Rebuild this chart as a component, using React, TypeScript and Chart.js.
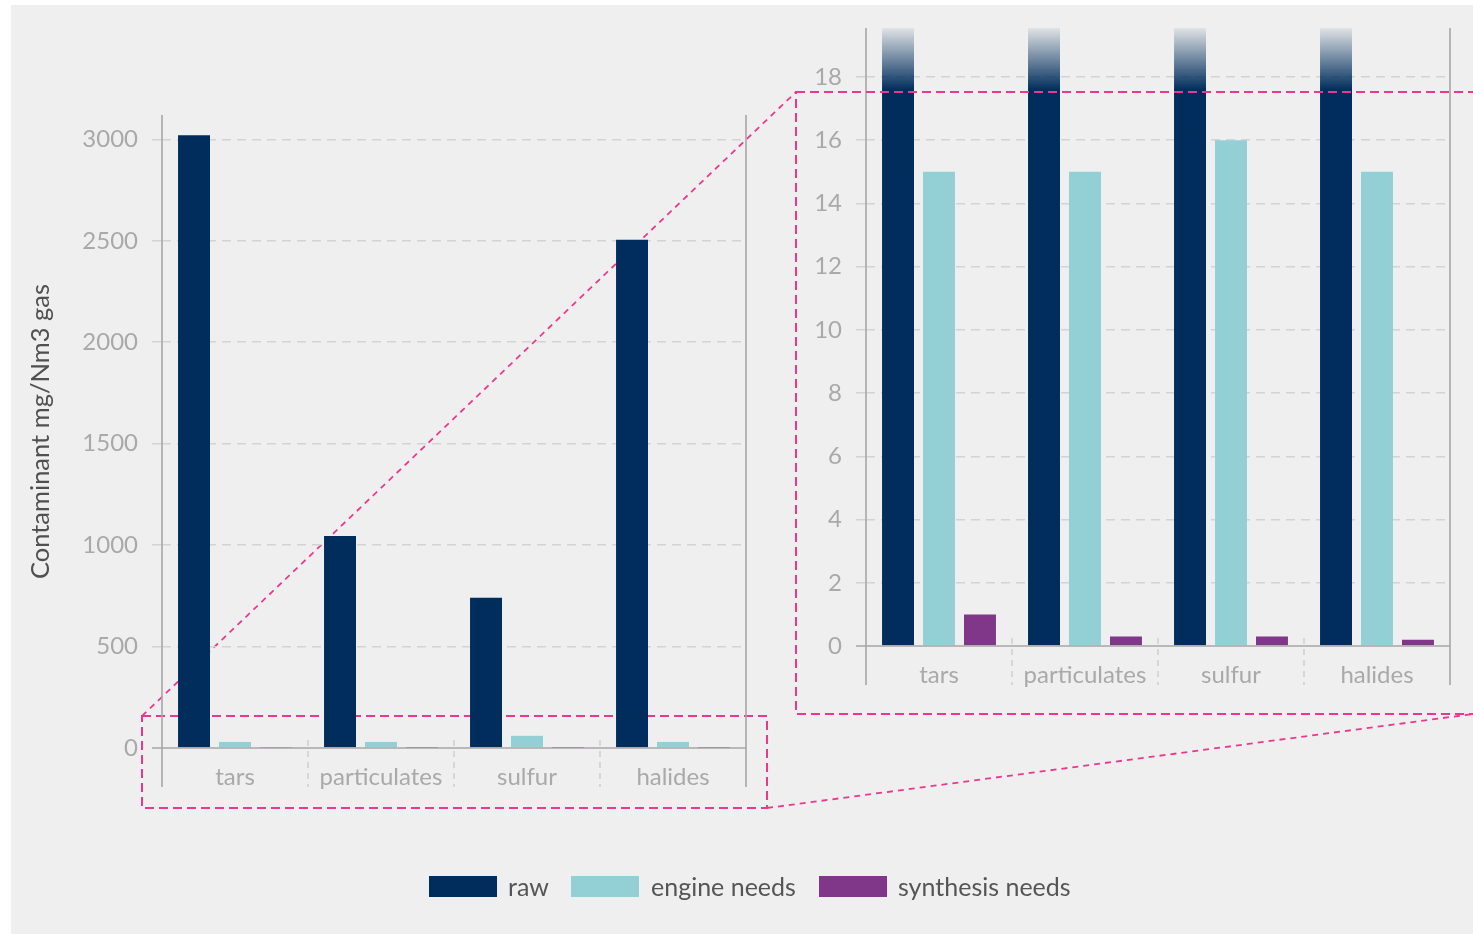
import React, { useEffect, useRef } from 'react';
import { Chart, registerables } from 'chart.js';

Chart.register(...registerables);

// ---------- data ----------
const categories = ['tars', 'particulates', 'sulfur', 'halides'];
const seriesNames = ['raw', 'engine needs', 'synthesis needs'];
const rawValues = [3020, 1045, 740, 2505];
const engineNeedsOverview = [30, 30, 60, 30];
const engineNeeds = [15, 15, 16, 15];
const synthesisNeeds = [1, 0.3, 0.3, 0.2];
const overviewTicks = [0, 500, 1000, 1500, 2000, 2500, 3000];
const zoomTicks = [0, 2, 4, 6, 8, 10, 12, 14, 16, 18];
const yTitle = 'Contaminant mg/Nm3 gas';

// ---------- style ----------
const NAVY = '#002d5c';
const TEAL = '#93d0d6';
const PURPLE = '#80378a';
const PINK = '#ec3790';
const TICK_COLOR = '#a9a9a9';
const GRID_COLOR = '#d3d3d3';
const FRAME_COLOR = '#a6a6a6';
const FONT = 'Lato, "Open Sans", sans-serif';

const W = 1473;
const H = 934;

// canvas placements (page coordinates)
const LEFT_BOX = { x: 20, y: 85, w: 740, h: 715, axisW: 142, axisH: 52, padTop: 30, padRight: 14 };
const RIGHT_BOX = { x: 790, y: -2, w: 683, h: 702, axisW: 76, axisH: 54, padTop: 30, padRight: 23 };

const framePlugin = {
  id: 'frame',
  afterDraw(chart: any) {
    const { ctx, chartArea: a, scales } = chart;
    const xs = scales.x;
    const y0 = scales.y.getPixelForValue(0);
    ctx.save();
    ctx.strokeStyle = FRAME_COLOR;
    ctx.lineWidth = 1.6;
    ctx.setLineDash([]);
    ctx.beginPath();
    ctx.moveTo(a.left - 10, y0);
    ctx.lineTo(a.right, y0);
    ctx.stroke();
    for (const px of [a.left, a.right]) {
      ctx.beginPath();
      ctx.moveTo(px, a.top);
      ctx.lineTo(px, a.bottom + 39);
      ctx.stroke();
    }
    ctx.strokeStyle = '#c6c6c6';
    ctx.lineWidth = 1.2;
    ctx.setLineDash([6, 5]);
    for (let i = 1; i < categories.length; i++) {
      const px = (xs.getPixelForValue(i - 1) + xs.getPixelForValue(i)) / 2;
      ctx.beginPath();
      ctx.moveTo(px, y0 - 8);
      ctx.lineTo(px, a.bottom + 39);
      ctx.stroke();
    }
    ctx.restore();
  },
};

function makeOptions(box: any, max: number, ticks: number[], withTitle: boolean) {
  const gridColor = (c: any) => (c.tick && c.tick.value === 0 ? 'rgba(0,0,0,0)' : GRID_COLOR);
  return {
    responsive: false,
    animation: false as const,
    maintainAspectRatio: false,
    layout: { padding: { top: box.padTop, right: box.padRight, left: 0, bottom: 0 } },
    plugins: {
      legend: { display: false },
      tooltip: { enabled: false },
    },
    datasets: { bar: { categoryPercentage: 0.842, barPercentage: 0.78 } },
    scales: {
      x: {
        grid: { display: false, drawTicks: false },
        border: { display: false },
        ticks: {
          color: TICK_COLOR,
          padding: 15,
          font: { family: FONT, size: 24 },
          maxRotation: 0,
          autoSkip: false,
        },
        afterFit: (s: any) => {
          s.height = box.axisH;
        },
      },
      y: {
        min: 0,
        max,
        afterBuildTicks: (axis: any) => {
          axis.ticks = ticks.map((v) => ({ value: v }));
        },
        afterFit: (s: any) => {
          s.width = box.axisW;
        },
        grid: {
          color: gridColor,
          tickColor: gridColor,
          lineWidth: 1.5,
          tickWidth: 1.5,
          tickLength: 10,
          borderDash: [9, 6],
          tickBorderDash: [9, 6],
        },
        border: { display: false, dash: [9, 6] },
        ticks: {
          color: TICK_COLOR,
          padding: 14,
          font: { family: FONT, size: 24 },
          callback: (v: any) => String(v),
        },
        title: {
          display: withTitle,
          text: yTitle,
          color: '#505050',
          font: { family: FONT, size: 25.5 },
          padding: { top: 5, bottom: 0 },
        },
      },
    },
  };
}

export default function App() {
  const leftRef = useRef<HTMLCanvasElement>(null);
  const rightRef = useRef<HTMLCanvasElement>(null);
  const backRef = useRef<HTMLCanvasElement>(null);
  const frontRef = useRef<HTMLCanvasElement>(null);

  useEffect(() => {
    const left = new Chart(leftRef.current!, {
      type: 'bar',
      data: {
        labels: categories,
        datasets: [
          { label: seriesNames[0], data: rawValues, backgroundColor: NAVY, clip: 0 },
          { label: seriesNames[1], data: engineNeedsOverview, backgroundColor: TEAL, clip: 0 },
          { label: seriesNames[2], data: synthesisNeeds, backgroundColor: PURPLE, clip: 0 },
        ],
      },
      options: makeOptions(LEFT_BOX, 3120, overviewTicks, true) as any,
      plugins: [framePlugin],
    });

    const rawGradient = (c: any) => {
      const chart = c.chart;
      const a = chart.chartArea;
      if (!a) return NAVY;
      const g = chart.ctx.createLinearGradient(0, a.top - 4, 0, a.top + 62);
      g.addColorStop(0, 'rgba(0,45,92,0.0)');
      g.addColorStop(0.35, 'rgba(0,45,92,0.35)');
      g.addColorStop(1, 'rgba(0,45,92,1)');
      return g;
    };

    const right = new Chart(rightRef.current!, {
      type: 'bar',
      data: {
        labels: categories,
        datasets: [
          { label: seriesNames[0], data: rawValues, backgroundColor: rawGradient, clip: 0 },
          { label: seriesNames[1], data: engineNeeds, backgroundColor: TEAL, clip: 0 },
          { label: seriesNames[2], data: synthesisNeeds, backgroundColor: PURPLE, clip: 0 },
        ],
      },
      options: makeOptions(RIGHT_BOX, 19.55, zoomTicks, false) as any,
      plugins: [framePlugin],
    });

    // zoom indicator lines, placed relative to the chart areas
    const la = left.chartArea;
    const ra = right.chartArea;
    const L = {
      left: LEFT_BOX.x + la.left,
      right: LEFT_BOX.x + la.right,
      bottom: LEFT_BOX.y + la.bottom,
    };
    const R = {
      left: RIGHT_BOX.x + ra.left,
      top: RIGHT_BOX.y + ra.top,
      bottom: RIGHT_BOX.y + ra.bottom,
    };
    const lr = { x1: L.left - 20, x2: L.right + 21, y1: L.bottom - 32, y2: L.bottom + 60 };
    const rr = { x1: R.left - 70, x2: W + 4, y1: R.top + 64, y2: R.bottom + 68 };

    const back = backRef.current!.getContext('2d')!;
    back.clearRect(0, 0, W, H);
    back.strokeStyle = PINK;
    back.lineWidth = 2;
    back.setLineDash([9, 5]);
    back.strokeRect(lr.x1, lr.y1, lr.x2 - lr.x1, lr.y2 - lr.y1);
    back.lineWidth = 1.8;
    back.setLineDash([6, 5]);
    back.beginPath();
    back.moveTo(lr.x1, lr.y1);
    back.lineTo(rr.x1, rr.y1);
    back.stroke();
    back.beginPath();
    back.moveTo(lr.x2, lr.y2);
    back.lineTo(W, rr.y2);
    back.stroke();

    const front = frontRef.current!.getContext('2d')!;
    front.clearRect(0, 0, W, H);
    front.strokeStyle = PINK;
    front.lineWidth = 2;
    front.setLineDash([9, 5]);
    front.strokeRect(rr.x1, rr.y1, rr.x2 - rr.x1, rr.y2 - rr.y1);

    return () => {
      left.destroy();
      right.destroy();
    };
  }, []);

  const legendItems = [
    { name: seriesNames[0], color: NAVY, bx: 429, tx: 508 },
    { name: seriesNames[1], color: TEAL, bx: 571, tx: 651 },
    { name: seriesNames[2], color: PURPLE, bx: 819, tx: 898 },
  ];

  const abs = (x: number, y: number, w: number, h: number): React.CSSProperties => ({
    position: 'absolute',
    left: x,
    top: y,
    width: w,
    height: h,
  });

  return (
    <div style={{ position: 'absolute', left: 0, top: 0, width: W, height: H, background: '#ffffff', overflow: 'hidden' }}>
      <div style={{ ...abs(11, 5, W - 11, H - 5), background: '#efefef' }} />
      <canvas ref={backRef} width={W} height={H} style={abs(0, 0, W, H)} />
      <canvas ref={leftRef} width={LEFT_BOX.w} height={LEFT_BOX.h} style={abs(LEFT_BOX.x, LEFT_BOX.y, LEFT_BOX.w, LEFT_BOX.h)} />
      <canvas ref={rightRef} width={RIGHT_BOX.w} height={RIGHT_BOX.h} style={abs(RIGHT_BOX.x, RIGHT_BOX.y, RIGHT_BOX.w, RIGHT_BOX.h)} />
      <canvas ref={frontRef} width={W} height={H} style={{ ...abs(0, 0, W, H), pointerEvents: 'none' }} />
      {legendItems.map((it) => (
        <React.Fragment key={it.name}>
          <div style={{ ...abs(it.bx, 876, 68, 21), background: it.color }} />
          <div
            style={{
              position: 'absolute',
              left: it.tx,
              top: 870,
              height: 32,
              lineHeight: '32px',
              fontFamily: FONT,
              fontSize: 25,
              color: '#555555',
              whiteSpace: 'nowrap',
            }}
          >
            {it.name}
          </div>
        </React.Fragment>
      ))}
    </div>
  );
}
